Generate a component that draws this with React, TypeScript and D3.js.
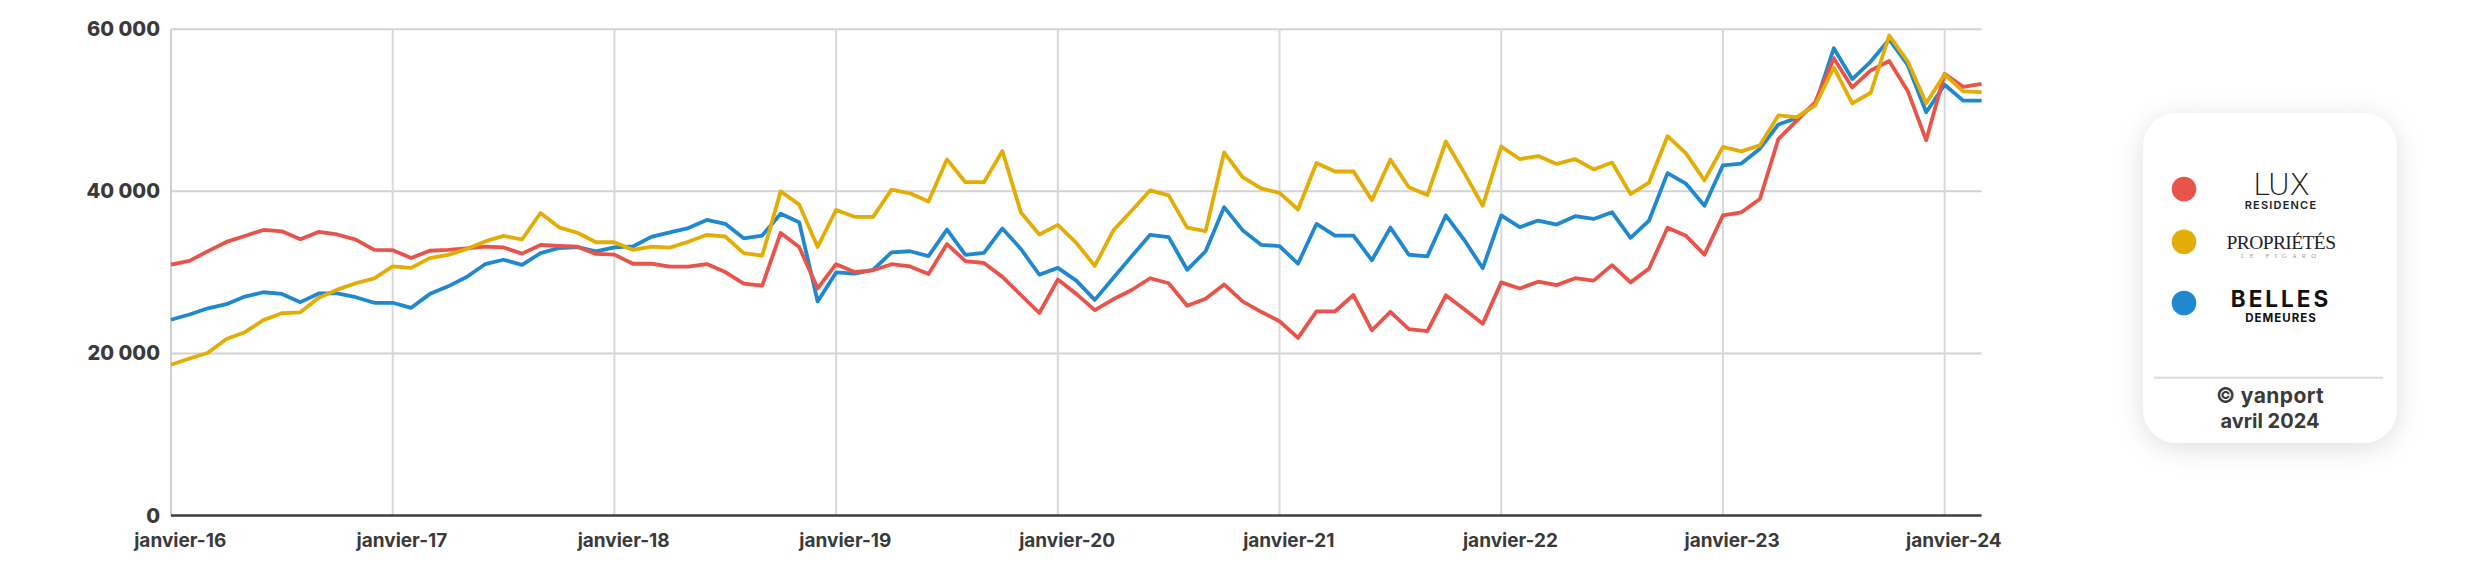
import React, { useEffect } from 'react';
import * as d3 from 'd3';

// ---------- DATA ----------
const startYear = 2016;
const monthCount = 99; // janvier-16 .. mars-24
const xTickYears = [2016, 2017, 2018, 2019, 2020, 2021, 2022, 2023, 2024];
const yTicks = [0, 20000, 40000, 60000];

const luxResidence = [
  30950, 31420, 32630, 33760, 34490, 35240, 35070, 34090, 35000, 34680, 34040, 32780,
  32740, 31780, 32670, 32780, 32970, 33170, 33080, 32320, 33390, 33260, 33170, 32280,
  32190, 31070, 31070, 30710, 30710, 31030, 30040, 28620, 28380, 34870, 33140, 28020,
  31010, 30050, 30260, 31010, 30730, 29800, 33490, 31400, 31160, 29450, 27210, 24990,
  29110, 27350, 25340, 26680, 27830, 29280, 28660, 25890, 26740, 28520, 26420, 25140,
  23970, 21920, 25180, 25180, 27210, 22860, 25140, 23000, 22750, 27170, 25460, 23650,
  28770, 28020, 28850, 28430, 29280, 28980, 30900, 28770, 30480, 35520, 34510, 32190,
  37050, 37420, 39060, 46450, 48730, 51020, 56420, 52830, 54920, 56080, 52400, 46320,
  54500, 52900, 53280,
];

const proprietes = [
  18600, 19380, 20090, 21770, 22620, 24110, 24960, 25070, 26880, 27870, 28660, 29260,
  30750, 30550, 31770, 32170, 32880, 33820, 34500, 34060, 37330, 35560, 34890, 33720,
  33720, 32780, 33170, 33060, 33780, 34640, 34430, 32380, 32080, 40000, 38370, 33140,
  37710, 36860, 36860, 40210, 39760, 38760, 43950, 41130, 41130, 44980, 37410, 34680,
  35860, 33650, 30800, 35170, 37630, 40130, 39510, 35520, 35090, 44820, 41750, 40360,
  39810, 37760, 43500, 42450, 42470, 38910, 43920, 40510, 39550, 46150, 42280, 38230,
  45530, 43990, 44360, 43390, 43990, 42710, 43560, 39660, 41090, 46810, 44680, 41360,
  45480, 44930, 45680, 49370, 49160, 50630, 55290, 50860, 52170, 59230, 56050, 50870,
  54450, 52340, 52250,
];

const bellesDemeures = [
  24160, 24800, 25570, 26080, 27020, 27550, 27340, 26330, 27400, 27400, 26940, 26250,
  26250, 25630, 27320, 28280, 29430, 31010, 31560, 30920, 32370, 33010, 33120, 32600,
  33080, 33200, 34380, 34930, 35470, 36470, 36000, 34200, 34550, 37240, 36200, 26420,
  30000, 29840, 30300, 32480, 32610, 32010, 35280, 32160, 32420, 35430, 32890, 29710,
  30560, 28980, 26610, 29300, 32010, 34640, 34360, 30320, 32610, 38050, 35210, 33400,
  33250, 31070, 35980, 34530, 34530, 31500, 35530, 32180, 31980, 37030, 34000, 30520,
  37030, 35580, 36400, 35900, 36930, 36600, 37420, 34270, 36400, 42250, 40950, 38230,
  43220, 43430, 45270, 48250, 49070, 50710, 57660, 53860, 56020, 58760, 55610, 49770,
  53160, 51200, 51200,
];

const seriesNames = ['Lux Residence', 'Propriétés Le Figaro', 'Belles Demeures'];
const seriesColors = ['#E8534A', '#E3AD06', '#1F88CF'];

// ---------- LAYOUT ----------
const W = 2481;
const H = 563;
const plot = { left: 171, right: 1981.6, top: 29.3, bottom: 515.5 };
const FONT = "Inter, 'Open Sans', sans-serif";

const months = d3.range(monthCount).map((i) => new Date(Date.UTC(startYear, i, 1)));
const monthKeys = months.map((d) => d3.utcFormat('%Y-%m')(d));

const x = d3.scalePoint<string>().domain(monthKeys).range([plot.left, plot.right]);
const y = d3.scaleLinear().domain([0, 60000]).range([plot.bottom, plot.top]);
const step = x.step();

const fr = d3.formatLocale({ decimal: ',', thousands: '\u00a0', grouping: [3], currency: ['', '€'] });
const fmt = fr.format(',');

const line = d3
  .line<number>()
  .x((_, i) => x(monthKeys[i]) as number)
  .y((v) => y(v));

export default function App() {
  useEffect(() => {
    document.body.style.margin = '0';
    document.body.style.overflow = 'hidden';
  }, []);

  const drawOrder = [2, 0, 1];
  const data = [luxResidence, proprietes, bellesDemeures];

  const legend = { x: 2143, y: 113, w: 254, h: 330, r: 34 };
  const logoCx = 2281;
  const dotCx = 2184;
  const dotYs = [189, 241.7, 303];

  return (
    <svg width={W} height={H} style={{ display: 'block', background: '#fff' }}>
      <defs>
        <filter id="shadow" x="-30%" y="-30%" width="160%" height="160%">
          <feDropShadow dx="0" dy="5" stdDeviation="13" floodColor="#000" floodOpacity="0.13" />
        </filter>
      </defs>

      {/* horizontal gridlines */}
      {yTicks.filter((t) => t > 0).map((t) => (
        <line key={'h' + t} x1={plot.left} x2={plot.right} y1={y(t)} y2={y(t)} stroke="#d3d3d3" strokeWidth={2} />
      ))}
      {/* vertical gridlines at each January */}
      {xTickYears.map((yr) => {
        const k = `${yr}-01`;
        const xx = x(k) as number;
        return (
          <line key={'v' + yr} x1={xx} x2={xx} y1={plot.top} y2={plot.bottom} stroke={yr === startYear ? '#cfcfcf' : '#d9d9d9'} strokeWidth={2} />
        );
      })}

      {/* series */}
      {drawOrder.map((si) => (
        <path
          key={seriesNames[si]}
          d={line(data[si]) || ''}
          fill="none"
          stroke={seriesColors[si]}
          strokeWidth={3.8}
          strokeLinejoin="round"
          strokeLinecap="butt"
        />
      ))}

      {/* bottom axis */}
      <line x1={plot.left} x2={plot.right} y1={plot.bottom} y2={plot.bottom} stroke="#3d3d3d" strokeWidth={2.5} />

      {/* y tick labels */}
      {yTicks.map((t) => (
        <text
          key={'yl' + t}
          x={160}
          y={y(t)}
          textAnchor="end"
          dominantBaseline="central"
          fontFamily={FONT}
          fontWeight={800}
          fontSize={20}
          fill="#3a3a3a"
        >
          {fmt(t)}
        </text>
      ))}

      {/* x tick labels */}
      {xTickYears.map((yr) => {
        const xx = (x(`${yr}-01`) as number) + step / 2;
        return (
          <text
            key={'xl' + yr}
            x={xx}
            y={547}
            textAnchor="middle"
            fontFamily={FONT}
            fontWeight={700}
            fontSize={19}
            fill="#3a3a3a"
          >
            {`janvier-${String(yr).slice(2)}`}
          </text>
        );
      })}

      {/* legend card */}
      <rect x={legend.x} y={legend.y} width={legend.w} height={legend.h} rx={legend.r} ry={legend.r} fill="#fff" filter="url(#shadow)" />
      {dotYs.map((cy, i) => (
        <circle key={'dot' + i} cx={dotCx} cy={cy} r={12.3} fill={seriesColors[i]} />
      ))}

      {/* Lux Residence logo */}
      <text x={logoCx} y={195} textAnchor="middle" fontFamily="'DejaVu Sans', sans-serif" fontWeight={200} fontSize={31} letterSpacing={-1} fill="#222">
        LUX
      </text>
      <text x={logoCx} y={209} textAnchor="middle" fontFamily={FONT} fontWeight={600} fontSize={11} letterSpacing={1.2} fill="#222">
        RESIDENCE
      </text>

      {/* Propriétés Le Figaro logo */}
      <text x={logoCx} y={249} textAnchor="middle" fontFamily="'Liberation Serif', serif" fontSize={19.5} letterSpacing={-0.6} fill="#222">
        PROPRIÉTÉS
      </text>
      <text x={logoCx} y={257.5} textAnchor="middle" fontFamily="'Liberation Serif', serif" fontSize={6.5} letterSpacing={5.2} fill="#999">
        LE FIGARO
      </text>

      {/* Belles Demeures logo */}
      <text x={logoCx} y={307} textAnchor="middle" fontFamily={FONT} fontWeight={700} fontSize={22.5} letterSpacing={3} fill="#111">
        BELLES
      </text>
      <text x={logoCx} y={321.5} textAnchor="middle" fontFamily={FONT} fontWeight={700} fontSize={11.5} letterSpacing={1} fill="#111">
        DEMEURES
      </text>

      {/* separator and credit */}
      <line x1={2154} x2={2383} y1={377.7} y2={377.7} stroke="#dcdcdc" strokeWidth={2} />
      <text x={2270} y={403} textAnchor="middle" fontFamily={FONT} fontWeight={700} fontSize={21} letterSpacing={0.4} fill="#3a3a3a">
        © yanport
      </text>
      <text x={2270} y={427.5} textAnchor="middle" fontFamily={FONT} fontWeight={700} fontSize={20} fill="#3a3a3a">
        avril 2024
      </text>
    </svg>
  );
}
